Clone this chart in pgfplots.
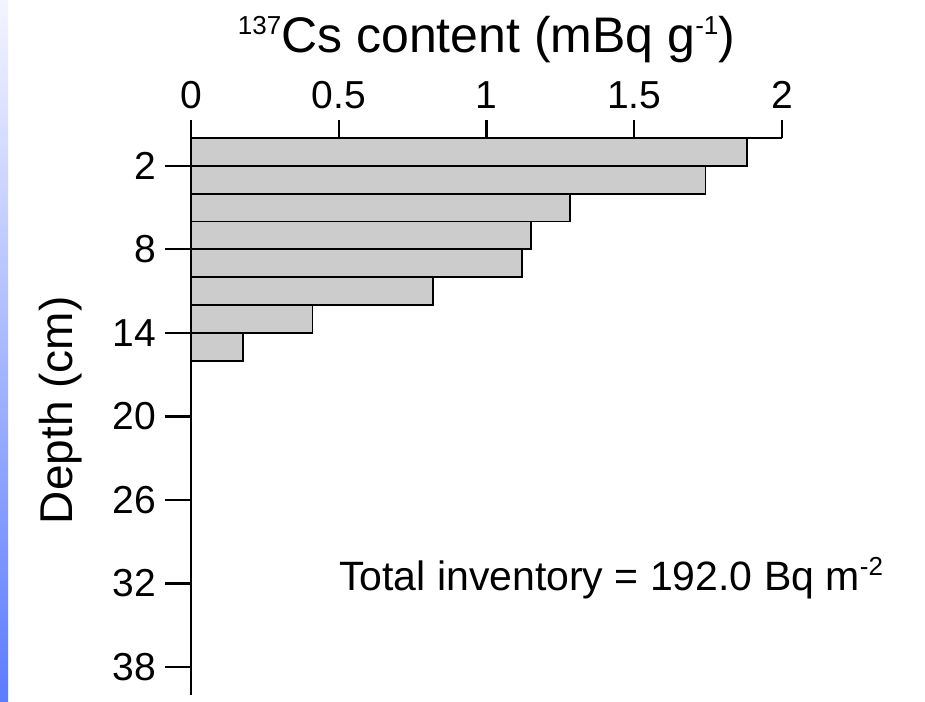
\documentclass[border=0pt]{standalone}
\usepackage{pgfplots}
\pgfplotsset{compat=1.18}
\usepackage{fontspec}
\setmainfont{Liberation Sans}
\definecolor{barfill}{RGB}{204,204,204}
\definecolor{stripTop}{RGB}{244,244,255}
\definecolor{stripMid}{RGB}{196,202,255}
\definecolor{stripBot}{RGB}{92,124,255}
\newcommand{\sups}[1]{\raisebox{0.36em}{\fontsize{13}{14}\selectfont #1}}
\begin{document}
\begin{tikzpicture}
\useasboundingbox (0,0) rectangle (462.5pt,350.5pt);
\fill[white] (0,0) rectangle (462.5pt,350.5pt);
\shade[top color=stripTop, middle color=stripMid, bottom color=stripBot] (0,0) rectangle (4pt,350.5pt);
\begin{axis}[
  at={(95.5pt,281.5pt)}, anchor=origin,
  scale only axis, width=295.5pt, height=278.4pt,
  xmin=0, xmax=2, ymin=0, ymax=40,
  y dir=reverse,
  axis x line=top, axis y line=left,
  axis line style={-, line width=1.1pt, black},
  tick align=outside,
  major tick length=9pt,
  xtick={0,0.5,1,1.5,2},
  ytick={2,8,14,20,26,32,38},
  xtick style={line width=1.1pt, black},
  ytick style={line width=1.1pt, black, /pgfplots/major tick length=13pt},
  /pgf/number format/assume math mode=true,
  ticklabel style={font=\fontsize{19.5}{22}\selectfont},
  xticklabel style={yshift=2pt},
  yticklabel style={xshift=-5pt},
  xlabel={\sups{137}Cs content (mBq g\sups{-1})},
  xlabel style={at={(axis description cs:0.5,1)}, anchor=center, yshift=49pt, font=\fontsize{25}{28}\selectfont},
  ylabel={Depth (cm)},
  ylabel style={at={(axis description cs:-0.22,0.511)}, anchor=center, font=\fontsize{23}{26}\selectfont},
  clip=false,
]
\addplot[xbar, bar width=2, bar shift=0pt, fill=barfill, draw=black, line width=0.9pt]
  coordinates {(1.882,1) (1.741,3) (1.282,5) (1.151,7) (1.121,9) (0.818,11) (0.411,13) (0.176,15)};
\node[anchor=west, inner sep=0pt, font=\fontsize{20.5}{23}\selectfont]
  at (axis cs:0.5,31.6) {Total inventory = 192.0 Bq m\sups{-2}};
\end{axis}
\end{tikzpicture}
\end{document}
